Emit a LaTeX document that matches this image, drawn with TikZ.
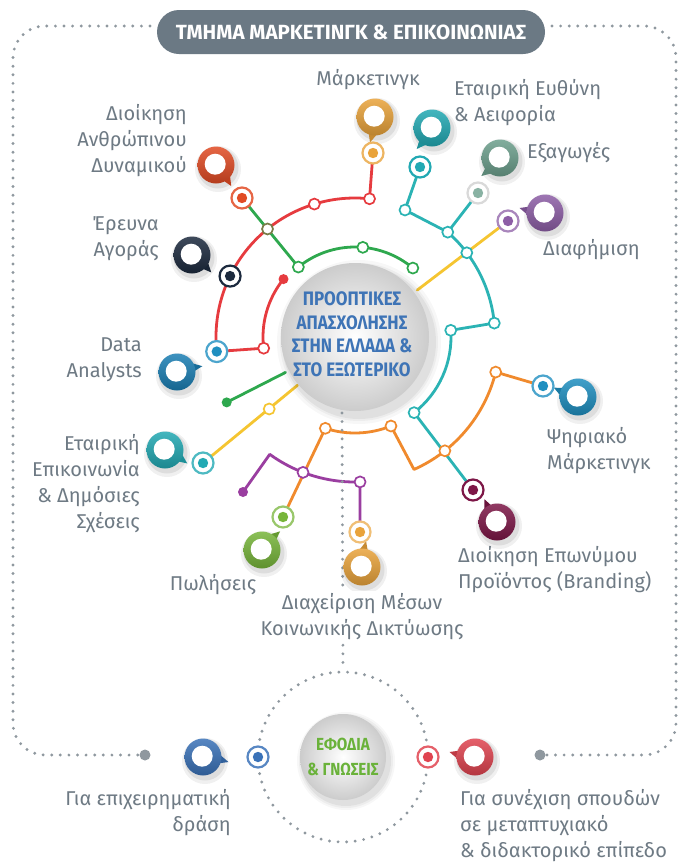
\documentclass[tikz,border=0pt]{standalone}
\usepackage{fontspec}
\setmainfont{Fira Sans}
\newfontfamily\condfont{Fira Sans}[FakeStretch=0.87]
\usetikzlibrary{calc}
\definecolor{lblgray}{HTML}{6E7A84}
\definecolor{dotgray}{HTML}{8F989F}
\definecolor{bangray}{HTML}{6B7984}
\definecolor{cred}{HTML}{E63B3F}
\definecolor{cgreen}{HTML}{2EA84E}
\definecolor{cteal}{HTML}{2BB3B4}
\definecolor{cyellow}{HTML}{F5C531}
\definecolor{corange}{HTML}{F08A2D}
\definecolor{cpurple}{HTML}{9A3EA0}
\definecolor{pgold}{HTML}{E9A33B}
\definecolor{pteal}{HTML}{22A9B3}
\definecolor{pgg}{HTML}{6C9F8C}
\definecolor{ppurp}{HTML}{8D5EA6}
\definecolor{pblue}{HTML}{1F8FC0}
\definecolor{pmaroon}{HTML}{7D1747}
\definecolor{pgreen}{HTML}{77B53A}
\definecolor{pdblue}{HTML}{1B7FB4}
\definecolor{pnavy}{HTML}{1C2A3E}
\definecolor{pred}{HTML}{E14B24}
\definecolor{pbblue}{HTML}{3A72B8}
\definecolor{pbred}{HTML}{E04450}
\definecolor{ctxtblue}{HTML}{3E74B6}
\definecolor{ctxtgreen}{HTML}{6AB23A}
\newcommand{\PinIcon}[4]{%
  \begin{scope}[shift={(#1,-#2)}]
    \fill[black,opacity=0.06] (2,-4) circle (23);
    \fill[black,opacity=0.08] (2,-3) circle (20.5);
    \begin{scope}[rotate=#3]
      \fill[#4!85!black] (-24:16) -- (25.5,-5) -- (12:16) -- cycle;
    \end{scope}
    \shade[top color=#4!85!white, bottom color=#4!80!black] (0,0) circle (18.5);
    \fill[white] (-0.8,0.8) circle (10.5);
  \end{scope}}
\begin{document}
\begin{tikzpicture}[x=1pt,y=1pt,
  lbl/.style={text=lblgray, font=\fontsize{20}{26}\selectfont, inner sep=1pt},
  ln/.style={draw=#1, line width=2.8pt, line cap=round, line join=round},
  jn/.style={circle, draw=#1, fill=white, line width=1.7pt, minimum size=11pt, inner sep=0pt},
  tgt/.style 2 args={circle, draw=#1, fill=white, line width=2.2pt, minimum size=21pt, inner sep=0pt,
     path picture={\fill[#2] (path picture bounding box.center) circle (5.2pt);}},
  enddot/.style={circle, fill=#1, minimum size=10pt, inner sep=0pt},
  dots/.style={draw=dotgray, line width=3.2pt, line cap=round, dash pattern=on 0pt off 8.6pt},
  ]
\useasboundingbox (0,0) rectangle (687,-865);
\fill[white] (0,0) rectangle (687,-865);

% ---------- coordinates ----------
\coordinate (C) at (355,-337);
\coordinate (cMk) at (373,-153);
\coordinate (cR1) at ($(C)+(84:139)$);
\coordinate (cR2) at ($(C)+(107:139)$);
\coordinate (cR3) at ($(C)+(129:139)$);
\coordinate (cEr) at ($(C)+(154:139)$);
\coordinate (cDa) at ($(C)+(186:139)$);
\coordinate (cR4) at ($(C)+(187:92)$);
\coordinate (cR5) at ($(C)+(141:92)$);
\coordinate (cDi) at (242,-198);
\coordinate (cG2) at ($(C)+(129:90)$);
\coordinate (cG3) at ($(C)+(85:90)$);
\coordinate (cG4) at ($(C)+(50:90)$);
\coordinate (cGs1) at ($(C)+(207:78)$);
\coordinate (cGs2) at ($(C)+(207:144)$);
\coordinate (cY1) at ($(C)+(37:78)$);
\coordinate (cDf) at (508,-221);
\coordinate (cY2) at ($(C)+(220:75)$);
\coordinate (cY3) at ($(C)+(220:112)$);
\coordinate (cEe) at (203,-463);
\coordinate (cEt) at (420,-167);
\coordinate (cT1) at (405,-210);
\coordinate (cT2) at ($(C)+(48.5:140)$);
\coordinate (cEx) at (478,-193);
\coordinate (cT4) at ($(C)+(37:140)$);
\coordinate (cT5) at ($(C)+(5.7:140)$);
\coordinate (cT6) at ($(C)+(4:96)$);
\coordinate (cT7) at ($(C)+(-52:96)$);
\coordinate (cBr) at (473,-490);
\coordinate (cT9) at ($(C)+(-51.7:145)$);
\coordinate (cO1) at ($(C)+(252:96)$);
\coordinate (cO2) at ($(C)+(292:96)$);
\coordinate (cO3) at ($(C)+(-66:145)$);
\coordinate (cO4) at ($(C)+(-14:145)$);
\coordinate (cPs) at (543,-386);
\coordinate (cPw) at (283,-517);
\coordinate (cPd) at (243,-492);
\coordinate (cPc) at ($(C)+(234:145)$);
\coordinate (cP1) at ($(C)+(249:145)$);
\coordinate (cP2) at ($(C)+(272:145)$);
\coordinate (cDx) at (360,-532);
\coordinate (B) at (343,-757);
\coordinate (cBl) at (258,-757);
\coordinate (cBr2) at (428,-757);
\coordinate (dtop) at (342,-413);

% ---------- frame ----------
\node[fill=bangray, rounded corners=22pt, minimum width=388pt, minimum height=44pt, text=white,
      font=\bfseries\fontsize{20.5}{22}\selectfont] (ban) at (351,-32) {ΤΜΗΜΑ ΜΑΡΚΕΤΙΝΓΚ \& ΕΠΙΚΟΙΝΩΝΙΑΣ};
\node[circle, fill=dotgray, minimum size=11pt, inner sep=0pt] (gL) at (145,-755) {};
\node[circle, fill=dotgray, minimum size=11pt, inner sep=0pt] (gR) at (540,-755) {};
\coordinate (fL) at (150,-26);
\coordinate (fR) at (552,-26);
\draw[dots] (fL) -- (45,-26) arc[start angle=90, end angle=180, radius=32]
   -- (13,-723) arc[start angle=180, end angle=270, radius=32] -- (gL);
\draw[dots] (fR) -- (644,-26) arc[start angle=90, end angle=0, radius=32]
   -- (676,-723) arc[start angle=0, end angle=-90, radius=32] -- (gR);

% ---------- bottom ring ----------
\node[circle, dots, minimum size=170pt, inner sep=0pt] (ring) at (B) {};

% ---------- coloured lines ----------
\draw[ln=cred] (cMk) -- (cR1) arc[start angle=84, end angle=186, radius=139];
\draw[ln=cred] (cDa) -- (cR4) arc[start angle=187, end angle=141, radius=92];
\draw[ln=cgreen] (cDi) -- (cG2) arc[start angle=129, end angle=50, radius=90];
\draw[ln=cgreen] (cGs1) -- (cGs2);
\draw[ln=cyellow] (cY1) -- (cDf);
\draw[ln=cyellow] (cY2) -- (cEe);
\draw[ln=cteal] (cEt) -- (cT1) -- (cT2) arc[start angle=48.5, end angle=5.7, radius=140] -- (cT6)
   arc[start angle=4, end angle=-52, radius=96] -- (cBr);
\draw[ln=cteal] (cT2) -- (cEx);
\draw[ln=corange] (cPw) -- (cO1) arc[start angle=252, end angle=292, radius=96] -- (cO3)
   arc[start angle=-66, end angle=-14, radius=145] -- (cPs);
\draw[ln=cpurple] (cPd) -- (cPc) arc[start angle=234, end angle=272, radius=145] -- (cDx);

% ---------- main circle ----------
\foreach \r/\o in {82/0.03,79/0.04,77/0.05}{\fill[black,opacity=\o] ($(C)+(4,-5)$) circle (\r);}
\node[circle, minimum size=148pt, inner sep=0pt, inner color=white, outer color=black!20,
      shade] (main) at (C) {};
\node[text=ctxtblue, font=\condfont\bfseries\fontsize{19.5}{23.5}\selectfont, align=center] (mainT) at (352,-334)
   {ΠΡΟΟΠΤΙΚΕΣ\\ΑΠΑΣΧΟΛΗΣΗΣ\\ΣΤΗΝ ΕΛΛΑΔΑ \&\\ΣΤΟ ΕΞΩΤΕΡΙΚΟ};
\draw[dots] (dtop) -- (ring.north);

% ---------- junctions ----------
\node[jn=cred] (R1) at (cR1) {};
\node[jn=cred] (R2) at (cR2) {};
\node[jn=cgreen!60!cred] (R3) at (cR3) {};
\node[jn=cred] (R4) at (cR4) {};
\node[enddot=cred] (R5) at (cR5) {};
\node[jn=cgreen] (G2) at (cG2) {};
\node[jn=cgreen] (G3) at (cG3) {};
\node[jn=cgreen] (G4) at (cG4) {};
\node[enddot=cgreen] (Gs) at (cGs2) {};
\node[jn=cyellow] (Y3) at (cY3) {};
\node[jn=cteal] (T1) at (cT1) {};
\node[jn=cteal] (T2) at (cT2) {};
\node[jn=cteal] (T4) at (cT4) {};
\node[jn=cteal] (T5) at (cT5) {};
\node[jn=cteal] (T6) at (cT6) {};
\node[jn=cteal] (T7) at (cT7) {};
\node[jn=corange] (T9) at (cT9) {};
\node[jn=corange] (O1) at (cO1) {};
\node[jn=corange] (O2) at (cO2) {};
\node[jn=corange] (O4) at (cO4) {};
\node[jn=cpurple] (P1) at (cP1) {};
\node[jn=cpurple] (P2) at (cP2) {};
\node[enddot=cpurple] (Pd) at (cPd) {};

% ---------- pins ----------
\PinIcon{375}{117}{-90}{pgold}
\PinIcon{432}{128}{-115}{pteal}
\PinIcon{500}{158}{-125}{pgg}
\PinIcon{545}{213}{180}{ppurp}
\PinIcon{578}{397}{170}{pblue}
\PinIcon{497}{522}{130}{pmaroon}
\PinIcon{362}{567}{92}{pgold}
\PinIcon{262}{550}{57}{pgreen}
\PinIcon{165}{450}{-20}{pteal}
\PinIcon{177}{372}{24}{pdblue}
\PinIcon{192}{255}{-31}{pnavy}
\PinIcon{216}{165}{-43}{pred}
\PinIcon{203}{757}{0}{pbblue}
\PinIcon{475}{757}{180}{pbred}

% ---------- target nodes ----------
\node[tgt={pgold!80!white}{pgold}] (Mk) at (cMk) {};
\node[tgt={pteal}{pteal}] (Et) at (cEt) {};
\node[tgt={black!15}{pgg!80!white}] (Ex) at (cEx) {};
\node[tgt={ppurp!75!white}{ppurp}] (Df) at (cDf) {};
\node[tgt={pblue!80!white}{pblue}] (Ps) at (cPs) {};
\node[tgt={pmaroon}{pmaroon}] (Br) at (cBr) {};
\node[tgt={pgold!70!white}{pgold}] (Dx) at (cDx) {};
\node[tgt={pgreen!75!white}{pgreen}] (Pw) at (cPw) {};
\node[tgt={pteal!80!white}{pteal}] (Ee) at (cEe) {};
\node[tgt={pblue!80!white}{pblue}] (Da) at (cDa) {};
\node[tgt={pnavy}{pnavy}] (Er) at (cEr) {};
\node[tgt={pred!85!white}{pred}] (Di) at (cDi) {};
\node[tgt={pbblue!85!white}{pbblue}] (Bl) at (cBl) {};
\node[tgt={pbred!85!white}{pbred}] (Br2) at (cBr2) {};

% ---------- bottom circle ----------
\foreach \r/\o in {49/0.03,47/0.04,45/0.05}{\fill[black,opacity=\o] ($(B)+(3,-4)$) circle (\r);}
\node[circle, minimum size=86pt, inner sep=0pt, inner color=white, outer color=black!20, shade,
      text=ctxtgreen, font=\condfont\bfseries\fontsize{17.5}{25}\selectfont, align=center] (ef) at (B)
      {ΕΦΟΔΙΑ\\\& ΓΝΩΣΕΙΣ};

% ---------- labels ----------
\node[lbl] (tMk) at (368,-80) {Μάρκετινγκ};
\node[lbl, align=left, anchor=west] (tEt) at (453,-103) {Εταιρική Ευθύνη\\\& Αειφορία};
\node[lbl, anchor=west] (tEx) at (526,-153) {Εξαγωγές};
\node[lbl, anchor=west] (tDf) at (542,-250) {Διαφήμιση};
\node[lbl, align=left, anchor=west] (tPs) at (546,-451) {Ψηφιακό\\Μάρκετινγκ};
\node[lbl, align=left, anchor=west] (tBr) at (457,-570) {Διοίκηση Επωνύμου\\Προϊόντος (Branding)};
\node[lbl, align=center, fill=white, inner sep=3pt] (tDx) at (362,-617) {Διαχείριση Μέσων\\Κοινωνικής Δικτύωσης};
\node[lbl] (tPw) at (213,-585) {Πωλήσεις};
\node[lbl, align=right, anchor=east] (tEe) at (141,-484) {Εταιρική\\Επικοινωνία\\\& Δημόσιες\\Σχέσεις};
\node[lbl, align=right, anchor=east] (tDa) at (143,-360) {Data\\Analysts};
\node[lbl, align=right, anchor=east] (tEr) at (160,-239) {Έρευνα\\Αγοράς};
\node[lbl, align=right, anchor=east] (tDi) at (188,-141) {Διοίκηση\\Ανθρώπινου\\Δυναμικού};
\node[lbl, align=right, anchor=east] (tBl) at (232,-813) {Για επιχειρηματική\\δράση};
\node[lbl, align=left, anchor=west] (tBr2) at (459,-826) {Για συνέχιση σπουδών\\σε μεταπτυχιακό\\\& διδακτορικό επίπεδο};
\end{tikzpicture}
\end{document}
